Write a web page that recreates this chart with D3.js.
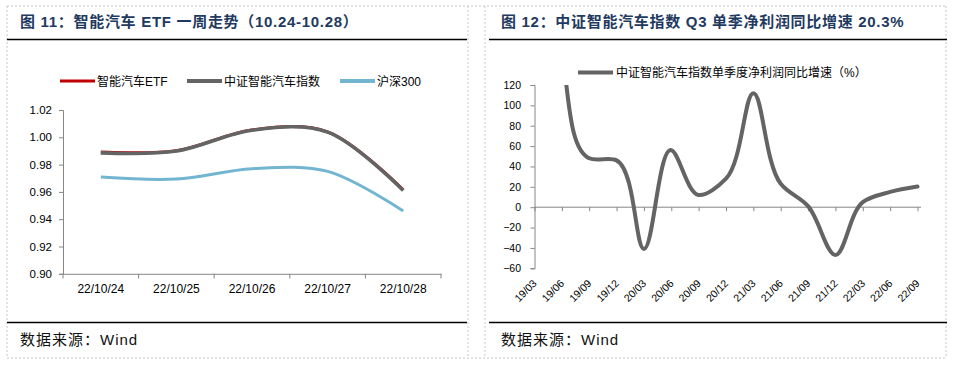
<!DOCTYPE html>
<html>
<head>
<meta charset="utf-8">
<script src="https://cdn.jsdelivr.net/npm/d3@7"></script>
<style>
body { margin: 0; background: #fff; }
svg { display: block; font-family: Arial, "Liberation Sans", "Noto Sans CJK SC", sans-serif; }
</style>
</head>
<body>
<svg id="chart" width="953" height="367"></svg>
<script>
// ---- left chart: one week trend ----
const weekDates = ['22/10/24', '22/10/25', '22/10/26', '22/10/27', '22/10/28'];
const etfValues = [0.9892, 0.9902, 1.0054, 1.0040, 0.9615];
const indexValues = [0.9886, 0.9899, 1.0052, 1.0038, 0.9610];
const hs300Values = [0.9709, 0.9694, 0.9770, 0.9750, 0.9460];
const weekTicks = [0.90, 0.92, 0.94, 0.96, 0.98, 1.00, 1.02];
const weekSeries = ['智能汽车ETF', '中证智能汽车指数', '沪深300'];

// ---- right chart: quarterly net profit growth ----
const quarters = ['19/03', '19/06', '19/09', '19/12', '20/03', '20/06', '20/09', '20/12',
  '21/03', '21/06', '21/09', '21/12', '22/03', '22/06', '22/09'];
const profitGrowth = [400, 150, 48, 46, -41, 56, 12, 28, 112, 23, 1, -47, 5, 15, 20.3];
const growthTicks = [-60, -40, -20, 0, 20, 40, 60, 80, 100, 120];
const growthSeries = '中证智能汽车指数单季度净利润同比增速（%）';

const svg = d3.select('#chart');
const cjk = '"Liberation Sans", Arial, "Noto Sans CJK SC", sans-serif';
const axisColor = '#868686';

// frame: dashed table borders
const frame = svg.append('g')
  .attr('stroke', '#c6c6c6')
  .attr('stroke-dasharray', '2,2')
  .attr('fill', 'none');
[[7, 6, 946, 6], [7, 358, 946, 358], [7, 6, 7, 358], [468, 6, 468, 358],
 [485, 6, 485, 358], [946, 6, 946, 358]].forEach(l => {
  frame.append('line').attr('x1', l[0]).attr('y1', l[1]).attr('x2', l[2]).attr('y2', l[3]);
});

// titles and footers
const panels = [
  { x0: 7, x1: 467, tx: 20, title: '图 11：智能汽车 ETF 一周走势（10.24-10.28）' },
  { x0: 489, x1: 947, tx: 501, title: '图 12：中证智能汽车指数 Q3 单季净利润同比增速 20.3%' }
];
panels.forEach(p => {
  svg.append('text')
    .attr('x', p.tx).attr('y', 27)
    .attr('font-size', 15).attr('font-weight', 'bold')
    .attr('letter-spacing', 0.7)
    .attr('fill', '#1f3a60')
    .style('font-family', cjk)
    .text(p.title);
  svg.append('line')
    .attr('x1', p.x0).attr('x2', p.x1).attr('y1', 39.5).attr('y2', 39.5)
    .attr('stroke', '#000').attr('stroke-width', 1.5);
  svg.append('line')
    .attr('x1', p.x0).attr('x2', p.x1).attr('y1', 322.5).attr('y2', 322.5)
    .attr('stroke', '#000').attr('stroke-width', 1.5);
  svg.append('text')
    .attr('x', p.tx).attr('y', 344.5)
    .attr('font-size', 15).attr('fill', '#111')
    .attr('letter-spacing', 1)
    .style('font-family', cjk)
    .text('数据来源：Wind');
});

// ======== LEFT CHART ========
const xBand = d3.scaleBand().domain(weekDates).range([63, 441]);
const yWeek = d3.scaleLinear().domain([0.90, 1.02]).range([273.8, 110]);
const left = svg.append('g');

// y axis
const yAxisL = left.append('g')
  .attr('transform', 'translate(63,0)')
  .call(d3.axisLeft(yWeek).tickValues(weekTicks).tickSize(4).tickPadding(7)
    .tickFormat(d3.format('.2f')));
yAxisL.selectAll('path, line').attr('stroke', axisColor);
yAxisL.selectAll('text').attr('font-size', 11.5).attr('fill', '#000').style('font-family', 'Arial, "Liberation Sans"');

// x axis (labels centered in bands, ticks on band edges)
const xAxisL = left.append('g')
  .attr('transform', 'translate(0,273.8)')
  .call(d3.axisBottom(xBand).tickSize(0).tickPadding(11));
xAxisL.select('.domain').attr('stroke', axisColor);
xAxisL.selectAll('text').attr('font-size', 12).attr('fill', '#000').style('font-family', 'Arial, "Liberation Sans"');
d3.range(weekDates.length + 1).forEach(i => {
  const x = 63 + i * xBand.step();
  left.append('line').attr('x1', x).attr('x2', x).attr('y1', 273.8).attr('y2', 278.5)
    .attr('stroke', axisColor);
});

const weekLine = d3.line()
  .x((d, i) => xBand(weekDates[i]) + xBand.bandwidth() / 2)
  .y(d => yWeek(d))
  .curve(d3.curveCatmullRom);

left.append('path').datum(hs300Values).attr('d', weekLine)
  .attr('fill', 'none').attr('stroke', '#72b5d1').attr('stroke-width', 3);
left.append('path').datum(etfValues).attr('d', weekLine)
  .attr('fill', 'none').attr('stroke', '#c00000').attr('stroke-width', 3);
left.append('path').datum(indexValues).attr('d', weekLine)
  .attr('fill', 'none').attr('stroke', '#646464').attr('stroke-width', 3.6);

// legend
const legendL = [
  { name: weekSeries[0], color: '#c00000', w: 3, x: 60 },
  { name: weekSeries[1], color: '#646464', w: 4, x: 187 },
  { name: weekSeries[2], color: '#72b5d1', w: 4, x: 340 }
];
legendL.forEach(l => {
  left.append('line').attr('x1', l.x).attr('x2', l.x + 35).attr('y1', 81).attr('y2', 81)
    .attr('stroke', l.color).attr('stroke-width', l.w);
  left.append('text').attr('x', l.x + 37).attr('y', 85.5)
    .attr('font-size', 12).attr('fill', '#000').style('font-family', cjk)
    .text(l.name);
});

// ======== RIGHT CHART ========
const xQ = d3.scalePoint().domain(quarters).range([534.5, 917.5]);
const yQ = d3.scaleLinear().domain([-60, 120]).range([268.3, 85]);
const right = svg.append('g');

const yAxisR = right.append('g')
  .attr('transform', 'translate(534.5,0)')
  .call(d3.axisLeft(yQ).tickValues(growthTicks).tickSize(4).tickPadding(9.5));
yAxisR.selectAll('path, line').attr('stroke', axisColor);
yAxisR.selectAll('text').attr('font-size', 10.5).attr('fill', '#000').style('font-family', 'Arial, "Liberation Sans"');

const xAxisR = right.append('g')
  .attr('transform', `translate(0,${yQ(0)})`)
  .call(d3.axisBottom(xQ).tickSize(4).tickFormat(''));
xAxisR.select('.domain').remove();
xAxisR.selectAll('line').attr('stroke', axisColor);
right.append('line').attr('x1', 534.5).attr('x2', 921).attr('y1', yQ(0)).attr('y2', yQ(0))
  .attr('stroke', axisColor);

right.selectAll('.qlabel').data(quarters).enter().append('text')
  .attr('class', 'qlabel')
  .attr('transform', d => `translate(${xQ(d) + 3},284) rotate(-45)`)
  .attr('text-anchor', 'end')
  .attr('font-size', 10.5).attr('fill', '#000')
  .style('font-family', 'Arial, "Liberation Sans"')
  .text(d => d);

// the 19/03 value runs far above the axis max, so clip to the plot area
right.append('clipPath').attr('id', 'clipR')
  .append('rect').attr('x', 530).attr('y', 85).attr('width', 400).attr('height', 200);

const growthLine = d3.line()
  .x((d, i) => xQ(quarters[i]))
  .y(d => yQ(d))
  .curve(d3.curveCatmullRom.alpha(0.75));

right.append('path').datum(profitGrowth).attr('d', growthLine)
  .attr('clip-path', 'url(#clipR)')
  .attr('fill', 'none').attr('stroke', '#646464').attr('stroke-width', 4)
  .attr('stroke-linecap', 'round');

right.append('line').attr('x1', 578).attr('x2', 613).attr('y1', 72.5).attr('y2', 72.5)
  .attr('stroke', '#646464').attr('stroke-width', 4);
right.append('text').attr('x', 616).attr('y', 77)
  .attr('font-size', 12).attr('fill', '#000').style('font-family', cjk)
  .text(growthSeries);
</script>
</body>
</html>
